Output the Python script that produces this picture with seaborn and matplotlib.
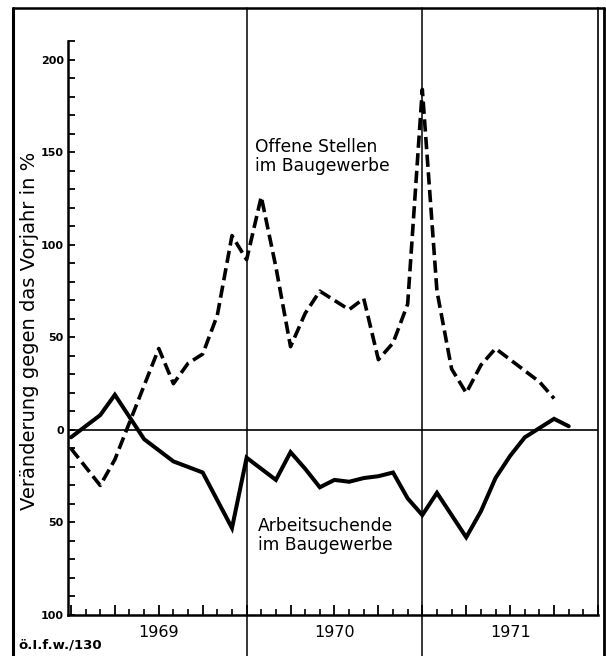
import matplotlib
matplotlib.use("Agg")
import matplotlib.pyplot as plt
from matplotlib.lines import Line2D
from matplotlib.ticker import FixedLocator, FuncFormatter
import matplotlib.transforms as mtransforms
import seaborn as sns
import pandas as pd

# Monthly values, Jan 1969 = month 0
offene_stellen = [-10, -20, -30, -16, 4, 24, 44, 25, 36, 41, 62, 105,
                  92, 126, 88, 45, 63, 75, 70, 65, 71, 38, 47, 68,
                  184, 75, 33, 20, 35, 44, 38, 32, 26, 17]
arbeitsuchende = [-4, 2, 8, 19, 7, -5, -11, -17, -20, -23, -38, -53,
                  -15, -21, -27, -12, -21, -31, -27, -28, -26, -25, -23, -37,
                  -46, -34, -46, -58, -44, -26, -14, -4, 1, 6, 2]
years = ["1969", "1970", "1971"]
y_major = [-100, -50, 0, 50, 100, 150, 200]
y_minor = list(range(-100, 211, 10))
y_label = "Veränderung gegen das Vorjahr in %"
label_offene = "Offene Stellen\nim Baugewerbe"
label_arbeit = "Arbeitsuchende\nim Baugewerbe"
source = "ö.I.f.w./130"

df_o = pd.DataFrame({"month": range(len(offene_stellen)), "value": offene_stellen})
df_a = pd.DataFrame({"month": range(len(arbeitsuchende)), "value": arbeitsuchende})

sns.set_style("white")
plt.rcParams["font.family"] = ["DejaVu Sans"]
plt.rcParams["text.color"] = "black"

W, H = 606, 656
fig = plt.figure(figsize=(W / 100, H / 100), dpi=100)
ax = fig.add_axes([68 / W, (H - 615) / H, 530 / W, 607 / H])

sns.lineplot(data=df_a, x="month", y="value", ax=ax, color="black",
             linewidth=2.9, solid_joinstyle="miter")
sns.lineplot(data=df_o, x="month", y="value", ax=ax, color="black",
             linewidth=2.6)
ax.lines[-1].set_dashes([3.4, 1.5])

ax.set_xlim(-0.2, 36)
ax.set_ylim(-100, 228)

# zero line and year separators
ax.axhline(0, color="black", linewidth=1.2, zorder=1)
for m in (12, 24):
    ax.axvline(m, ymin=-0.0675, ymax=1, color="black", linewidth=1.1,
               clip_on=False, zorder=1)

# spines
ax.spines["top"].set_visible(False)
for s in ("left", "bottom", "right"):
    ax.spines[s].set_color("black")
    ax.spines[s].set_linewidth(1.8)
ax.spines["left"].set_bounds(-100, 210)
ax.spines["right"].set_linewidth(1.2)

# y ticks
ax.yaxis.set_major_locator(FixedLocator(y_major))
ax.yaxis.set_minor_locator(FixedLocator(y_minor))
ax.yaxis.set_major_formatter(FuncFormatter(lambda v, p: f"{abs(int(v))}"))
ax.tick_params(axis="y", which="both", direction="in", left=True, right=False,
               length=5, width=1.3, color="black", labelsize=8, pad=3,
               labelcolor="black")
for t in ax.get_yticklabels():
    t.set_fontweight("bold")

# x ticks: monthly minor, quarterly major
ax.xaxis.set_major_locator(FixedLocator(list(range(0, 37, 3))))
ax.xaxis.set_minor_locator(FixedLocator(list(range(0, 37, 1))))
ax.tick_params(axis="x", which="major", direction="in", bottom=True, length=7,
               width=1.3, color="black", labelbottom=False)
ax.tick_params(axis="x", which="minor", direction="in", bottom=True, length=4,
               width=1.2, color="black")
ax.set_xlabel("")
ax.set_ylabel("")
ax.grid(False)

trans = mtransforms.blended_transform_factory(ax.transData, ax.transAxes)
for i, yr in enumerate(years):
    ax.text(6 + 12 * i, -0.016, yr, transform=trans, ha="center", va="top",
            fontsize=11.5, color="black")

ax.text(12.57, 158, label_offene, ha="left", va="top", fontsize=12.3,
        linespacing=1.1, color="black")
ax.text(12.77, -47, label_arbeit, ha="left", va="top", fontsize=12.3,
        linespacing=1.1, color="black")

fig.text(30 / W, (H - 331) / H, y_label, rotation=90, ha="center",
         va="center", fontsize=14, color="black")
fig.text(18 / W, (H - 645) / H, source, ha="left", va="center", fontsize=9.5,
         fontweight="bold", color="black")

# frame around figure
def fline(x0, y0, x1, y1, lw):
    fig.add_artist(Line2D([x0 / W, x1 / W], [1 - y0 / H, 1 - y1 / H],
                          color="black", linewidth=lw, transform=fig.transFigure))

fline(13, 8, 13, 656, 2.2)
fline(13, 8, 604, 8, 1.8)
fline(604, 8, 604, 656, 2.0)

fig.savefig("out.png", dpi=100, facecolor="white")
